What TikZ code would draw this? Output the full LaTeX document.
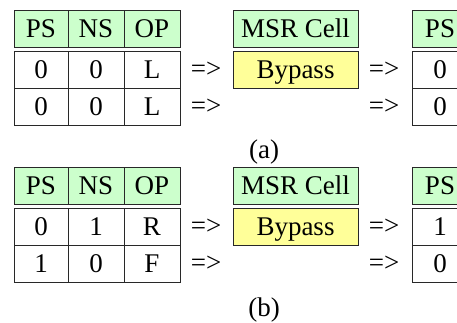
\documentclass[tikz,border=0pt]{standalone}
\usepackage{fontspec}
\setmainfont{Liberation Serif}
\definecolor{headgreen}{RGB}{204,255,204}
\definecolor{bypassyellow}{RGB}{255,255,153}
\definecolor{gridgray}{RGB}{40,40,40}
\begin{document}
\begin{tikzpicture}[x=1pt,y=-1pt,
  cell/.style={draw=gridgray, line width=1pt, inner sep=0pt, minimum height=37pt,
    text height=17.9pt, text depth=0pt, font=\fontsize{27}{31}\selectfont},
  head/.style={cell, fill=headgreen},
  narrow/.style={minimum width=54pt},
  wide/.style={minimum width=56pt},
  msr/.style={minimum width=125pt},
  implies/.style={inner sep=0pt, font=\fontsize{27}{31}\selectfont},
  caption/.style={inner sep=0pt, font=\fontsize{27}{31}\selectfont}]
\useasboundingbox (0,0) rectangle (457,322);
\clip (0,0) rectangle (457,322);
% (a)
\node [head, narrow] (aPS) at (41,28.5) {PS};
\node [head, wide] (aNS) at (96,28.5) {NS};
\node [head, wide] (aOP) at (152,28.5) {OP};
\node [cell, narrow] (aPSone) at (41,69.5) {0};
\node [cell, wide] (aNSone) at (96,69.5) {0};
\node [cell, wide] (aOPone) at (152,69.5) {L};
\node [cell, narrow] (aPStwo) at (41,106.5) {0};
\node [cell, wide] (aNStwo) at (96,106.5) {0};
\node [cell, wide] (aOPtwo) at (152,106.5) {L};
\node [implies] (aInone) at (206,69.5) {=>};
\node [implies] (aIntwo) at (206,106.5) {=>};
\node [head, msr] (aMSR) at (295.5,28.5) {MSR Cell};
\node [cell, msr, fill=bypassyellow] (aBypass) at (295.5,69.5) {Bypass};
\node [implies] (aOutone) at (384,69.5) {=>};
\node [implies] (aOuttwo) at (384,106.5) {=>};
\node [head, wide] (aNextPS) at (440,28.5) {PS};
\node [cell, wide] (aNextone) at (440,69.5) {0};
\node [cell, wide] (aNexttwo) at (440,106.5) {0};
\node [caption] (acap) at (264,152) {(a)};
%
% (b)
\node [head, narrow] (bPS) at (41,185.5) {PS};
\node [head, wide] (bNS) at (96,185.5) {NS};
\node [head, wide] (bOP) at (152,185.5) {OP};
\node [cell, narrow] (bPSone) at (41,226.5) {0};
\node [cell, wide] (bNSone) at (96,226.5) {1};
\node [cell, wide] (bOPone) at (152,226.5) {R};
\node [cell, narrow] (bPStwo) at (41,263.5) {1};
\node [cell, wide] (bNStwo) at (96,263.5) {0};
\node [cell, wide] (bOPtwo) at (152,263.5) {F};
\node [implies] (bInone) at (206,226.5) {=>};
\node [implies] (bIntwo) at (206,263.5) {=>};
\node [head, msr] (bMSR) at (295.5,185.5) {MSR Cell};
\node [cell, msr, fill=bypassyellow] (bBypass) at (295.5,226.5) {Bypass};
\node [implies] (bOutone) at (384,226.5) {=>};
\node [implies] (bOuttwo) at (384,263.5) {=>};
\node [head, wide] (bNextPS) at (440,185.5) {PS};
\node [cell, wide] (bNextone) at (440,226.5) {1};
\node [cell, wide] (bNexttwo) at (440,263.5) {0};
\node [caption] (bcap) at (264,310) {(b)};
%
\end{tikzpicture}
\end{document}
